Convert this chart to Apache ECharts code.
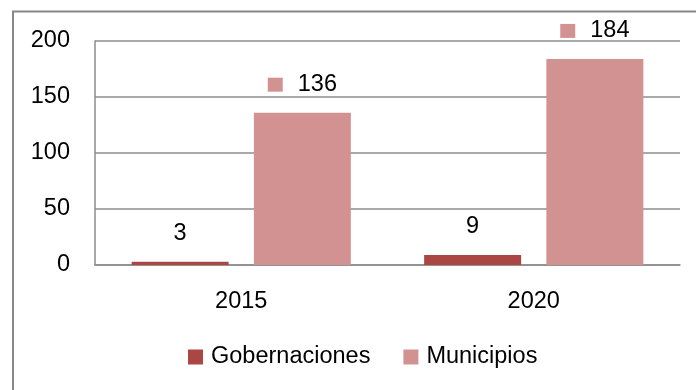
<!DOCTYPE html>
<html>
<head>
<meta charset="utf-8">
<script src="https://cdn.jsdelivr.net/npm/echarts@6/dist/echarts.min.js"></script>
<style>
  html, body { margin: 0; padding: 0; background: #ffffff; }
  #chart { width: 696px; height: 390px; }
</style>
</head>
<body>
<div id="chart"></div>
<script>
// Categories and values
const years = ['2015', '2020'];
const gobernaciones = [3, 9];
const municipios = [136, 184];
const seriesNames = ['Gobernaciones', 'Municipios'];

const FONT = 'Liberation Sans';
const FS = 23.5;
const darkRed = '#AA4644';
const pink = '#D39292';
const axisGray = '#8c8c8c';

const chart = echarts.init(document.getElementById('chart'), null, { renderer: 'canvas' });

chart.setOption({
  animation: false,
  backgroundColor: '#ffffff',
  textStyle: { fontFamily: FONT, color: '#000' },
  graphic: [{
    type: 'rect',
    shape: { x: 13, y: 11.5, width: 720, height: 420 },
    style: { fill: 'none', stroke: '#878787', lineWidth: 2 },
    silent: true
  }],
  grid: { left: 95, right: 16, top: 41, bottom: 125 },
  legend: {
    data: seriesNames,
    top: 345,
    left: 188,
    padding: 0,
    itemWidth: 15,
    itemHeight: 15,
    itemGap: 33,
    icon: 'rect',
    textStyle: { fontFamily: FONT, fontSize: FS, color: '#000', padding: [0, 0, 0, 3] }
  },
  xAxis: {
    type: 'category',
    data: years,
    axisLine: { lineStyle: { color: axisGray, width: 1.5 } },
    axisTick: { show: false },
    axisLabel: { fontFamily: FONT, fontSize: FS, color: '#000', margin: 25 }
  },
  yAxis: {
    type: 'value',
    min: 0,
    max: 200,
    interval: 50,
    axisLine: { show: true, lineStyle: { color: axisGray, width: 1.5 } },
    axisTick: { show: false },
    splitLine: { lineStyle: { color: axisGray, width: 1.5 } },
    axisLabel: { fontFamily: FONT, fontSize: FS, color: '#000', margin: 25 }
  },
  series: [
    {
      name: seriesNames[0],
      type: 'bar',
      data: gobernaciones,
      barWidth: 97,
      barGap: '26%',
      itemStyle: { color: darkRed },
      label: {
        show: true,
        position: 'top',
        distance: 17,
        fontFamily: FONT,
        fontSize: FS,
        lineHeight: 22,
        color: '#000'
      }
    },
    {
      name: seriesNames[1],
      type: 'bar',
      data: municipios,
      barWidth: 97,
      itemStyle: { color: pink },
      label: {
        show: true,
        position: 'top',
        distance: 17,
        formatter: p => '{sq|}{v|' + p.value + '}',
        rich: {
          sq: { width: 15, height: 14, backgroundColor: pink },
          v: {
            fontFamily: FONT,
            fontSize: FS,
            lineHeight: 22,
            color: '#000',
            padding: [0, 0, 0, 15]
          }
        }
      }
    }
  ]
});
</script>
</body>
</html>
